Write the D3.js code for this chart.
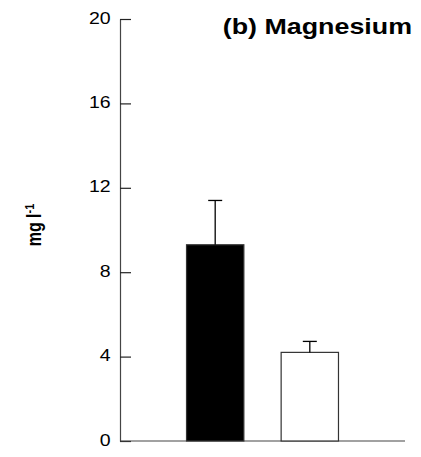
<!DOCTYPE html>
<html>
<head>
<meta charset="utf-8">
<script src="https://cdn.jsdelivr.net/npm/d3@7"></script>
<style>
  html, body { margin: 0; padding: 0; background: #fff; }
  svg { display: block; font-family: Arial, "Liberation Sans", sans-serif; }
</style>
</head>
<body>
<svg id="chart" width="421" height="457"></svg>
<script>
// Magnesium concentration for two groups, mean with upper error bar
const categories = ["A", "B"];
const means = [9.3, 4.2];
const errors = [2.1, 0.52];
const fills = ["#000000", "#ffffff"];
const yTicks = [0, 4, 8, 12, 16, 20];

const svg = d3.select("#chart");
const plotLeft = 120, plotRight = 405, plotTop = 19, plotBottom = 441;
const stretch = 1.22; // horizontal widening of the lettering

const y = d3.scaleLinear().domain([0, 20]).range([plotBottom, plotTop]);
const x = d3.scaleBand().domain(categories).range([plotLeft, plotRight])
  .paddingInner(0.394).paddingOuter(0.703);

// y axis with inward ticks
const yAxis = svg.append("g")
  .attr("transform", `translate(${plotLeft},0)`)
  .call(d3.axisRight(y).tickValues(yTicks).tickSize(11).tickSizeOuter(0).tickFormat(d3.format("d")));
yAxis.select(".domain").attr("stroke", "#444").attr("stroke-width", 1.2);
yAxis.selectAll(".tick line").attr("stroke", "#222").attr("stroke-width", 1.2);
yAxis.selectAll(".tick text")
  .attr("x", -9.3 / stretch).attr("dy", "0.26em").attr("text-anchor", "end")
  .attr("transform", `scale(${stretch},1)`)
  .attr("font-size", 16).attr("fill", "#000")
  .attr("font-family", "Arial, 'Liberation Sans', sans-serif");

// baseline
svg.append("line")
  .attr("x1", plotLeft).attr("x2", plotRight)
  .attr("y1", y(0)).attr("y2", y(0))
  .attr("stroke", "#444").attr("stroke-width", 1.2);

// bars
svg.selectAll("rect.bar").data(categories).enter().append("rect")
  .attr("class", "bar")
  .attr("x", d => x(d))
  .attr("width", x.bandwidth())
  .attr("y", (d, i) => y(means[i]))
  .attr("height", (d, i) => y(0) - y(means[i]))
  .attr("fill", (d, i) => fills[i])
  .attr("stroke", "#333").attr("stroke-width", 1.2);

// error bars
const capHalf = 7;
const eb = svg.selectAll("g.err").data(categories).enter().append("g").attr("class", "err");
eb.append("line")
  .attr("x1", d => x(d) + x.bandwidth() / 2).attr("x2", d => x(d) + x.bandwidth() / 2)
  .attr("y1", (d, i) => y(means[i])).attr("y2", (d, i) => y(means[i] + errors[i]))
  .attr("stroke", "#000").attr("stroke-width", 1.3);
eb.append("line")
  .attr("x1", d => x(d) + x.bandwidth() / 2 - capHalf).attr("x2", d => x(d) + x.bandwidth() / 2 + capHalf)
  .attr("y1", (d, i) => y(means[i] + errors[i])).attr("y2", (d, i) => y(means[i] + errors[i]))
  .attr("stroke", "#000").attr("stroke-width", 1.3);

// title
svg.append("text")
  .attr("transform", `translate(412,34) scale(${stretch},1)`)
  .attr("text-anchor", "end")
  .attr("font-size", 22).attr("font-weight", "bold")
  .text("(b) Magnesium");

// y axis label
const yl = svg.append("text")
  .attr("transform", `translate(41,225) scale(${stretch},1) rotate(-90)`)
  .attr("text-anchor", "middle")
  .attr("font-size", 16).attr("font-weight", "bold");
yl.append("tspan").text("mg l");
yl.append("tspan").attr("dy", -6).attr("font-size", 11).text("-1");
</script>
</body>
</html>
